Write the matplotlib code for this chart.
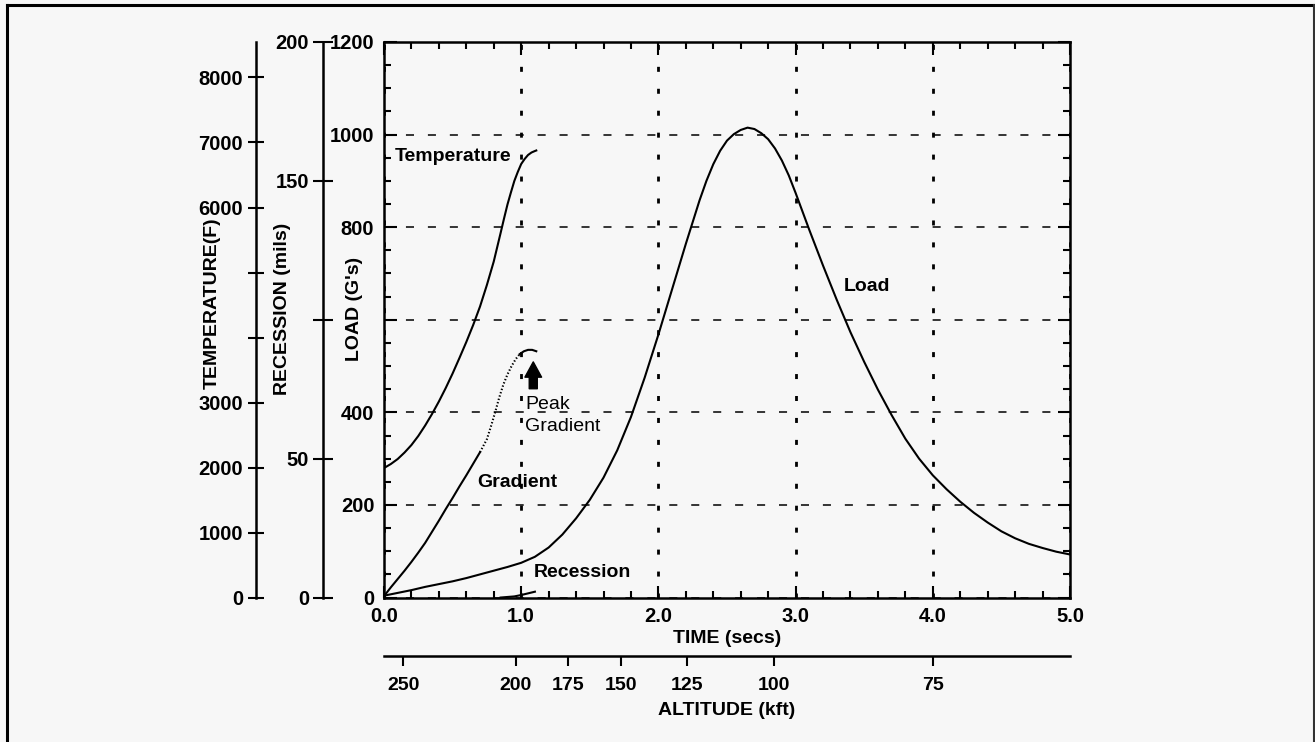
import matplotlib

matplotlib.use("Agg")

import matplotlib.pyplot as plt
from matplotlib.lines import Line2D
from matplotlib.ticker import MultipleLocator

plt.rcParams["font.family"] = ["Liberation Sans", "DejaVu Sans"]
plt.rcParams["font.weight"] = "bold"
plt.rcParams["axes.labelweight"] = "bold"
plt.rcParams["lines.scale_dashes"] = False

BG = "#f7f7f7"

# --- data -----------------------------------------------------------------
temp_t = [0.00, 0.05, 0.10, 0.15, 0.20, 0.25, 0.30, 0.35, 0.40, 0.45, 0.50,
          0.55, 0.60, 0.65, 0.70, 0.75, 0.80, 0.85, 0.875, 0.90, 0.925, 0.95,
          0.975, 1.00, 1.025, 1.05, 1.075, 1.10, 1.11]
temp_f = [1992, 2054, 2131, 2231, 2346, 2485, 2646, 2823, 3015, 3223, 3446,
          3685, 3931, 4192, 4477, 4808, 5169, 5608, 5831, 6046, 6231, 6408,
          6546, 6669, 6746, 6808, 6846, 6869, 6877]

grad_t = [0.00, 0.05, 0.10, 0.15, 0.20, 0.25, 0.30, 0.35, 0.40, 0.45, 0.50,
          0.55, 0.60, 0.65, 0.70, 0.75, 0.78, 0.81, 0.84, 0.87, 0.90, 0.93,
          0.96, 0.99, 1.02, 1.05, 1.08, 1.11]
grad_v = [3, 22, 40, 58, 77, 97, 118, 142, 166, 191, 215,
          240, 264, 289, 314, 342, 370, 400, 432, 460, 482, 500,
          515, 526, 532, 535, 535, 532]
grad_dotted = (14, 23)  # index range of the dotted stretch

load_t = [0.00, 0.10, 0.20, 0.30, 0.40, 0.50, 0.60, 0.70, 0.80, 0.90, 1.00,
          1.10, 1.20, 1.30, 1.40, 1.50, 1.60, 1.70, 1.80, 1.90, 2.00, 2.10,
          2.20, 2.30, 2.35, 2.40, 2.45, 2.50, 2.55, 2.60, 2.65, 2.70, 2.75,
          2.80, 2.85, 2.90, 2.95, 3.00, 3.10, 3.20, 3.30, 3.40, 3.50, 3.60,
          3.70, 3.80, 3.90, 4.00, 4.10, 4.20, 4.30, 4.40, 4.50, 4.60, 4.70,
          4.80, 4.90, 5.00]
load_g = [4, 10, 16, 23, 29, 35, 42, 50, 58, 66, 75,
          88, 108, 136, 171, 211, 259, 318, 390, 475, 568, 666,
          764, 858, 900, 936, 965, 987, 1001, 1010, 1015, 1012, 1003,
          990, 970, 944, 912, 874, 794, 717, 643, 573, 509, 449,
          394, 343, 300, 264, 234, 207, 183, 162, 143, 128, 116,
          107, 99, 93]

rec_t = [0.85, 0.95, 1.00, 1.05, 1.10]
rec_mils = [0.0, 0.4, 0.9, 1.5, 2.1]

time_ticks = [0.0, 1.0, 2.0, 3.0, 4.0, 5.0]
time_labels = ["0.0", "1.0", "2.0", "3.0", "4.0", "5.0"]
load_ticks = [0, 200, 400, 600, 800, 1000, 1200]
load_labels = ["0", "200", "400", "", "800", "1000", "1200"]
temp_ticks = [0, 1000, 2000, 3000, 4000, 5000, 6000, 7000, 8000]
temp_labels = ["0", "1000", "2000", "3000", "", "", "6000", "7000", "8000"]
rec_ticks = [0, 50, 100, 150, 200]
rec_labels = ["0", "50", "", "150", "200"]
alt_times = [0.14, 0.96, 1.34, 1.73, 2.21, 2.84, 4.00]
alt_labels = ["250", "200", "175", "150", "125", "100", "75"]

# --- figure ---------------------------------------------------------------
fig = plt.figure(figsize=(13.15, 7.42), dpi=100, facecolor=BG)
ax = fig.add_axes([0.2920, 0.1947, 0.5217, 0.7487], facecolor=BG)

ax_temp = ax.twinx()
ax_rec = ax.twinx()
for a, pos, tlen in ((ax_temp, -0.187, 12), (ax_rec, -0.089, 14)):
    for side in ("top", "bottom", "right"):
        a.spines[side].set_visible(False)
    a.spines["left"].set_visible(True)
    a.spines["left"].set_position(("axes", pos))
    a.spines["left"].set_linewidth(1.8)
    a.yaxis.set_ticks_position("left")
    a.yaxis.set_label_position("left")
    a.tick_params(axis="y", direction="inout", length=tlen, width=1.5,
                  labelsize=14.5, pad=3)

ax_temp.set_ylim(0, 8546)
ax_temp.set_yticks(temp_ticks, labels=temp_labels)
ax_temp.set_ylabel("TEMPERATURE(F)", fontsize=14)
ax_temp.yaxis.set_label_coords(-0.238, 0.53)

ax_rec.set_ylim(0, 200)
ax_rec.set_yticks(rec_ticks, labels=rec_labels)
ax_rec.set_ylabel("RECESSION (mils)", fontsize=14)
ax_rec.yaxis.set_label_coords(-0.136, 0.52)

# main (load / time) axes
ax.set_xlim(0, 5)
ax.set_ylim(0, 1200)
ax.set_xticks(time_ticks, labels=time_labels)
ax.set_yticks(load_ticks, labels=load_labels)
ax.xaxis.set_minor_locator(MultipleLocator(0.2))
ax.yaxis.set_minor_locator(MultipleLocator(50))
ax.tick_params(which="both", direction="in", top=True, right=True,
               left=True, bottom=True, width=1.5, labelsize=14.5)
ax.tick_params(which="major", length=9, pad=7)
ax.tick_params(which="minor", length=5)
for s in ax.spines.values():
    s.set_linewidth(1.8)
ax.set_ylabel("LOAD (G's)", fontsize=14)
ax.yaxis.set_label_coords(-0.031, 0.52)
ax.set_xlabel("TIME (secs)", fontsize=14, labelpad=3)

ax.xaxis.grid(True, color="black", linewidth=2.0, linestyle=(0, (3.6, 12.2)))
ax.yaxis.grid(True, color="black", linewidth=1.1, linestyle=(0, (5.8, 10.0)))
ax.set_axisbelow(True)

# curves
ax_temp.plot(temp_t, temp_f, color="black", linewidth=1.5)
i0, i1 = grad_dotted
ax.plot(grad_t[:i0 + 1], grad_v[:i0 + 1], color="black", linewidth=1.5)
ax.plot(grad_t[i0:i1 + 1], grad_v[i0:i1 + 1], color="black", linewidth=1.5,
        linestyle=(0, (1, 1.5)))
ax.plot(grad_t[i1:], grad_v[i1:], color="black", linewidth=1.5)
ax.plot(load_t, load_g, color="black", linewidth=1.5)
ax_rec.plot(rec_t, rec_mils, color="black", linewidth=1.5)

# labels on curves
ax.text(0.08, 952, "Temperature", fontsize=14, va="center", ha="left")
ax.text(0.68, 248, "Gradient", fontsize=14, va="center", ha="left")
ax.text(1.09, 53, "Recession", fontsize=14, va="center", ha="left")
ax.text(3.35, 671, "Load", fontsize=14, va="center", ha="left")
ax.text(1.03, 418, "Peak", fontsize=14, fontweight="normal", va="center", ha="left")
ax.text(1.03, 370, "Gradient", fontsize=14, fontweight="normal", va="center", ha="left")
ax.annotate("", xy=(1.088, 509), xytext=(1.088, 451),
            arrowprops=dict(arrowstyle="simple,head_length=0.55,head_width=0.6,tail_width=0.29",
                            mutation_scale=20, color="black", shrinkA=0, shrinkB=0))

# altitude scale under the time axis
sec = ax.secondary_xaxis(-0.105)
sec.set_xticks(alt_times, labels=alt_labels)
sec.tick_params(direction="out", length=7.2, width=1.5, labelsize=14, pad=8)
sec.spines["bottom"].set_linewidth(1.8)
sec.set_xlabel("ALTITUDE (kft)", fontsize=14, labelpad=6)

# outer frame of the scanned figure
fig.add_artist(Line2D([0.005, 0.005], [0.0, 0.9933], transform=fig.transFigure,
                      color="black", linewidth=2.2))
fig.add_artist(Line2D([0.005, 0.9989], [0.9933, 0.9933], transform=fig.transFigure,
                      color="black", linewidth=2.2))
fig.add_artist(Line2D([0.9989, 0.9989], [0.0, 0.9933], transform=fig.transFigure,
                      color="#333333", linewidth=1.5))

fig.savefig("out.png", dpi=100, facecolor=BG)
